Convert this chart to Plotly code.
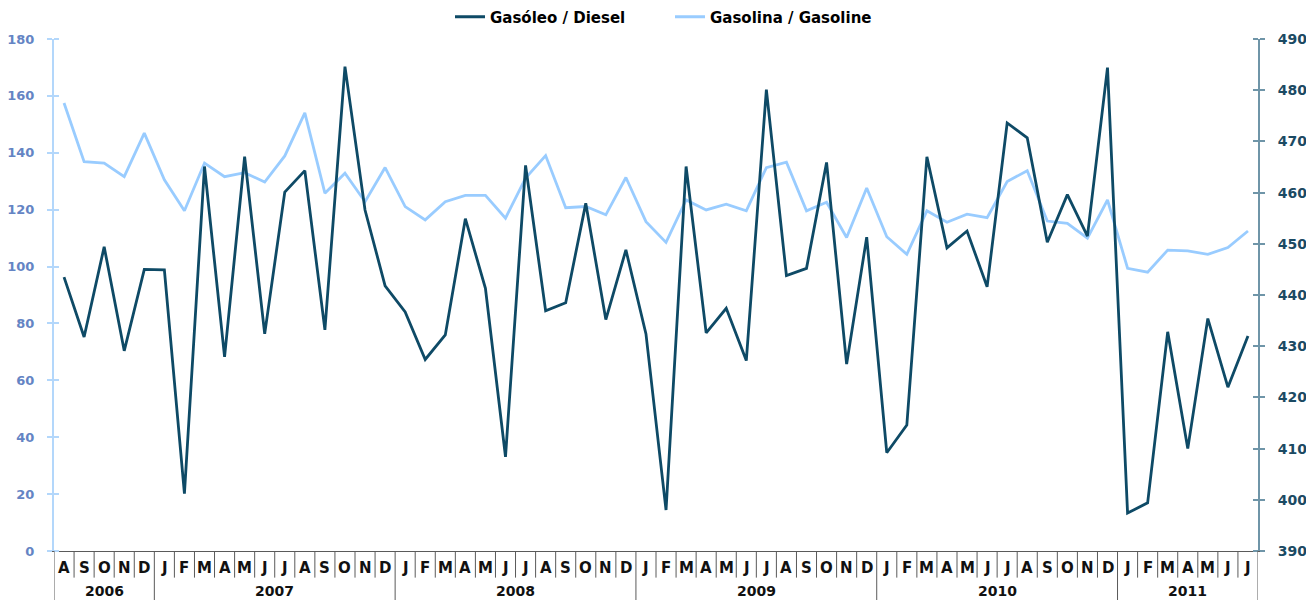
import plotly.graph_objects as go

# Monthly series, Aug 2006 - Jul 2011
years = ["2006", "2007", "2008", "2009", "2010", "2011"]
months_per_year = [
    ["A", "S", "O", "N", "D"],
    ["J", "F", "M", "A", "M", "J", "J", "A", "S", "O", "N", "D"],
    ["J", "F", "M", "A", "M", "J", "J", "A", "S", "O", "N", "D"],
    ["J", "F", "M", "A", "M", "J", "J", "A", "S", "O", "N", "D"],
    ["J", "F", "M", "A", "M", "J", "J", "A", "S", "O", "N", "D"],
    ["J", "F", "M", "A", "M", "J", "J"],
]

# Gasóleo / Diesel (right axis)
diesel = [
    443.5, 431.8, 449.4, 429.1, 445.0,
    444.9, 401.2, 465.1, 427.9, 467.0, 432.4, 460.1, 464.3, 433.2, 484.6, 456.6, 441.8,
    436.7, 427.4, 432.2, 454.9, 441.3, 408.4, 465.3, 436.9, 438.5, 457.9, 435.2, 448.8,
    432.4, 398.0, 465.1, 432.6, 437.4, 427.2, 480.1, 443.8, 445.2, 465.9, 426.5, 451.3,
    409.2, 414.6, 467.0, 449.2, 452.5, 441.6, 473.6, 470.7, 450.3, 459.6, 451.5, 484.4,
    397.4, 399.4, 432.8, 410.0, 435.4, 422.0, 432.0,
]

# Gasolina / Gasoline (left axis)
gasoline = [
    157.5, 136.9, 136.4, 131.6, 146.9,
    130.5, 119.6, 136.4, 131.6, 133.0, 129.7, 138.9, 154.0, 125.8, 132.8, 122.8, 134.8,
    121.1, 116.4, 122.8, 125.0, 125.0, 117.0, 131.1, 139.0, 120.7, 121.1, 118.2, 131.3,
    115.8, 108.5, 123.4, 119.9, 121.9, 119.6, 134.8, 136.7, 119.6, 122.6, 110.2, 127.6,
    110.5, 104.3, 119.6, 115.6, 118.4, 117.2, 129.9, 133.7, 116.0, 115.2, 110.0, 123.4,
    99.4, 98.0, 105.8, 105.5, 104.3, 106.7, 112.5,
]

month_labels = [m for ms in months_per_year for m in ms]
idx = list(range(len(month_labels)))

DIESEL_COLOR = "#0e4a66"
GASOLINE_COLOR = "#99ccff"
FONT = "Liberation Sans, Arial, sans-serif"
WIDE = "DejaVu Sans, Verdana, sans-serif"

fig = go.Figure()
fig.add_trace(go.Scatter(
    x=idx, y=diesel, name="Gasóleo / Diesel", mode="lines",
    line=dict(color=DIESEL_COLOR, width=2.8), yaxis="y2",
))
fig.add_trace(go.Scatter(
    x=idx, y=gasoline, name="Gasolina / Gasoline", mode="lines",
    line=dict(color=GASOLINE_COLOR, width=2.8), yaxis="y",
))

# Month letters and year labels beneath the plot
annotations = []
shapes = []
MONTH_Y = -0.034
YEAR_Y = -0.078
MONTH_DIV_BOTTOM = -0.052
BOTTOM = -0.12

for i, m in enumerate(month_labels):
    annotations.append(dict(
        x=i, y=MONTH_Y, xref="x", yref="paper", text="<b>%s</b>" % m, showarrow=False,
        font=dict(family=WIDE, size=15, color="#111111"), xanchor="center", yanchor="middle",
    ))

start = 0
boundaries = [-0.5]
for yr, ms in zip(years, months_per_year):
    end = start + len(ms)
    annotations.append(dict(
        x=(start + end - 1) / 2, y=YEAR_Y, xref="x", yref="paper", text="<b>%s</b>" % yr,
        showarrow=False, font=dict(family=WIDE, size=14, color="#111111"),
        xanchor="center", yanchor="middle",
    ))
    boundaries.append(end - 0.5)
    start = end

for k in range(len(month_labels) + 1):
    xb = k - 0.5
    bottom = BOTTOM if xb in boundaries else MONTH_DIV_BOTTOM
    shapes.append(dict(
        type="line", xref="x", yref="paper", x0=xb, x1=xb, y0=0, y1=bottom,
        line=dict(color="#5a5a5a", width=1),
    ))

fig.update_layout(
    width=1306, height=600,
    margin=dict(l=54, r=48, t=39, b=49, autoexpand=False),
    paper_bgcolor="white", plot_bgcolor="white",
    font=dict(family=FONT),
    showlegend=True,
    legend=dict(
        orientation="h", x=(450 - 54) / 1204, xanchor="left", y=1.043, yanchor="middle",
        font=dict(family=WIDE, size=15, color="#000000", weight="bold"),
        itemwidth=30, bgcolor="rgba(0,0,0,0)", entrywidth=175,
    ),
    xaxis=dict(
        range=[-0.5, len(month_labels) - 0.5], showticklabels=False, ticks="",
        showgrid=False, zeroline=False, showline=True, linecolor="#5a5a5a", linewidth=1,
        fixedrange=True, automargin=False,
    ),
    yaxis=dict(
        range=[0, 180], dtick=20, showgrid=False, zeroline=False, automargin=False,
        showline=True, linecolor="#b3d7fb", linewidth=2,
        ticks="outside", ticklen=5, tickcolor="#b3d7fb", tickwidth=1.5,
        minor=dict(ticks="inside", dtick=20, ticklen=5, tickcolor="#b3d7fb", tickwidth=1.5),
        tickfont=dict(family=WIDE, size=13, color="#6484c4", weight="bold"),
        ticklabelstandoff=10,
    ),
    yaxis2=dict(
        range=[390, 490], dtick=10, overlaying="y", side="right", showgrid=False,
        zeroline=False, showline=True, linecolor="#6f95a8", linewidth=2, automargin=False,
        ticks="outside", ticklen=5, tickcolor="#6f95a8", tickwidth=1.5,
        minor=dict(ticks="inside", dtick=10, ticklen=5, tickcolor="#6f95a8", tickwidth=1.5),
        tickfont=dict(family=WIDE, size=14, color="#1b4a63", weight="bold"),
        ticklabelstandoff=10,
    ),
    annotations=annotations,
    shapes=shapes,
)

fig.write_html("out.html")
